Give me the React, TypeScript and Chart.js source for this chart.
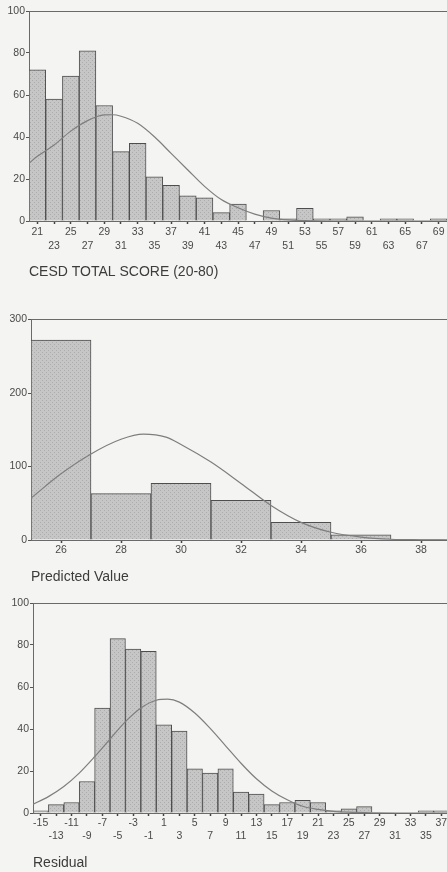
import React, { useEffect, useRef } from 'react';
import { Chart, registerables } from 'chart.js';

Chart.register(...registerables);

// ---------- Data ----------
// Chart 1: CESD TOTAL SCORE (20-80)
const cesdBins = [21, 23, 25, 27, 29, 31, 33, 35, 37, 39, 41, 43, 45, 47, 49, 51, 53, 55, 57, 59, 61, 63, 65, 67, 69];
const cesdTickLabels = ['21', '23', '25', '27', '29', '31', '33', '35', '37', '39', '41', '43', '45', '47', '49', '51', '53', '55', '57', '59', '61', '63', '65', '67', '69'];
const cesdCounts = [72, 58, 69, 81, 55, 33, 37, 21, 17, 12, 11, 4, 8, 0, 5, 1, 6, 1, 1, 2, 0, 1, 1, 0, 1];
const cesdCurveX = [20, 21, 23, 25, 27, 29, 30, 31, 33, 35, 37, 39, 41, 43, 45, 47, 49, 51, 53, 56, 70];
const cesdCurveY = [27.5, 30.8, 36.2, 42.8, 47.8, 50.5, 50.6, 49.9, 46.5, 40.1, 32.2, 24.3, 16.5, 10.2, 6.3, 3.3, 1.4, 0.5, 0.15, 0, 0];
const cesdYTicks = [0, 20, 40, 60, 80, 100];

// Chart 2: Predicted Value
const predBins = [26, 28, 30, 32, 34, 36, 38];
const predTickLabels = ['26', '28', '30', '32', '34', '36', '38'];
const predCounts = [272, 63, 77, 54, 24, 7, 1];
const predCurveX = [25, 26, 27, 28, 28.75, 29.5, 30, 31, 32, 33, 34, 35, 36, 37, 38, 39];
const predCurveY = [57, 90, 117, 137, 144, 140, 130, 106, 77, 47, 24, 10.5, 4, 1, 0.3, 0];
const predYTicks = [0, 100, 200, 300];

// Chart 3: Residual
const residBins = [-15, -13, -11, -9, -7, -5, -3, -1, 1, 3, 5, 7, 9, 11, 13, 15, 17, 19, 21, 23, 25, 27, 29, 31, 33, 35, 37];
const residTickLabels = ['-15', '-13', '-11', '-9', '-7', '-5', '-3', '-1', '1', '3', '5', '7', '9', '11', '13', '15', '17', '19', '21', '23', '25', '27', '29', '31', '33', '35', '37'];
const residCounts = [1, 4, 5, 15, 50, 83, 78, 77, 42, 39, 21, 19, 21, 10, 9, 4, 5, 6, 5, 1, 2, 3, 0, 0, 0, 1, 1];
const residCurveX = [-16.2, -14, -12, -10, -8, -6, -4, -2, 0, 1.5, 3, 5, 7, 9, 11, 13, 15, 17, 19, 21, 23, 25, 28, 31, 38];
const residCurveY = [3.8, 7.8, 12.6, 19, 26.8, 35.2, 43.5, 50, 53.7, 54.2, 52.8, 47.6, 40.3, 32, 23.7, 16.3, 10.5, 6.3, 3.2, 1.7, 0.8, 0.4, 0.1, 0, 0];
const residYTicks = [0, 20, 40, 60, 80, 100];

// ---------- Styling ----------
const BG = '#f4f4f2';
const FONT = "'Liberation Sans Narrow', 'Liberation Sans', Arial, sans-serif";
const TITLE_FONT = "'Liberation Sans', Arial, sans-serif";
const AXIS = '#6a6a6a';
const TEXT = '#4a4a4a';

function makePattern(): CanvasPattern | string {
  const c = document.createElement('canvas');
  c.width = 4;
  c.height = 4;
  const g = c.getContext('2d');
  if (!g) return '#c4c4c4';
  g.fillStyle = '#c6c6c6';
  g.fillRect(0, 0, 4, 4);
  g.fillStyle = '#acacac';
  g.fillRect(0, 0, 1, 1);
  g.fillRect(2, 2, 1, 1);
  const p = g.createPattern(c, 'repeat');
  return p || '#c4c4c4';
}

type Spec = {
  top: number;
  width: number;
  height: number;
  padTop: number;
  yWidth: number;
  xHeight: number;
  xMin: number;
  xMax: number;
  yMax: number;
  yStep: number;
  yTicks: number[];
  bins: number[];
  labels: string[];
  counts: number[];
  curveX: number[];
  curveY: number[];
  twoRows: boolean;
  lineHeight: number;
  tickPad: number;
  title: string;
};

const specs: Spec[] = [
  {
    top: 0, width: 447, height: 281, padTop: 11, yWidth: 29, xHeight: 60,
    xMin: 20, xMax: 70, yMax: 100, yStep: 20, yTicks: cesdYTicks,
    bins: cesdBins, labels: cesdTickLabels, counts: cesdCounts,
    curveX: cesdCurveX, curveY: cesdCurveY, twoRows: true, lineHeight: 14.3, tickPad: 0.5,
    title: 'CESD TOTAL SCORE (20-80)',
  },
  {
    top: 290, width: 451, height: 296, padTop: 29.5, yWidth: 31, xHeight: 46,
    xMin: 25, xMax: 39, yMax: 300, yStep: 100, yTicks: predYTicks,
    bins: predBins, labels: predTickLabels, counts: predCounts,
    curveX: predCurveX, curveY: predCurveY, twoRows: false, lineHeight: 12, tickPad: 1,
    title: 'Predicted Value',
  },
  {
    top: 590, width: 449, height: 282, padTop: 13, yWidth: 33, xHeight: 59,
    xMin: -16, xMax: 38, yMax: 100, yStep: 20, yTicks: residYTicks,
    bins: residBins, labels: residTickLabels, counts: residCounts,
    curveX: residCurveX, curveY: residCurveY, twoRows: true, lineHeight: 12.4, tickPad: 1.1,
    title: 'Residual',
  },
];

function Histogram({ spec }: { spec: Spec }) {
  const ref = useRef<HTMLCanvasElement | null>(null);

  useEffect(() => {
    if (!ref.current) return;
    const pattern = makePattern();
    const chart = new Chart(ref.current, {
      type: 'bar',
      data: {
        datasets: [
          {
            type: 'line',
            data: spec.curveX.map((x, i) => ({ x, y: spec.curveY[i] })),
            borderColor: '#7e7e7e',
            borderWidth: 1.2,
            pointRadius: 0,
            fill: false,
            cubicInterpolationMode: 'monotone',
            order: 0,
          } as any,
          {
            type: 'bar',
            data: spec.bins.map((x, i) => ({ x, y: spec.counts[i] })),
            backgroundColor: pattern as any,
            borderColor: '#4e4e4e',
            borderWidth: 1,
            barPercentage: 1,
            categoryPercentage: 1,
            order: 1,
          } as any,
        ],
      },
      options: {
        responsive: false,
        animation: false,
        events: [],
        layout: { padding: { top: spec.padTop, left: 0, right: 0, bottom: 0 } },
        plugins: { legend: { display: false }, tooltip: { enabled: false } },
        scales: {
          x: {
            type: 'linear',
            min: spec.xMin,
            max: spec.xMax,
            offset: false,
            afterBuildTicks: (axis: any) => {
              axis.ticks = spec.bins.map((v) => ({ value: v }));
            },
            afterFit: (axis: any) => {
              axis.height = spec.xHeight;
            },
            ticks: {
              autoSkip: false,
              maxRotation: 0,
              minRotation: 0,
              padding: spec.tickPad,
              color: TEXT,
              font: { family: FONT, size: 10.5, lineHeight: spec.lineHeight / 10.5 },
              callback: (_v: any, index: number) => {
                const lab = spec.labels[index] ?? '';
                if (!spec.twoRows) return lab;
                return index % 2 === 0 ? [lab, ''] : ['', lab];
              },
            },
            grid: {
              display: true,
              offset: false,
              drawOnChartArea: false,
              drawTicks: true,
              tickLength: 3,
              tickColor: '#444',
              tickWidth: 1.5,
            },
            border: { display: true, color: AXIS, width: 1 },
            title: {
              display: true,
              text: spec.title,
              align: 'start',
              color: '#3c3c3c',
              font: { family: TITLE_FONT, size: 14, lineHeight: 1.2 },
              padding: 0,
            },
          } as any,
          y: {
            type: 'linear',
            min: 0,
            max: spec.yMax,
            afterBuildTicks: (axis: any) => {
              axis.ticks = spec.yTicks.map((v) => ({ value: v }));
            },
            afterFit: (axis: any) => {
              axis.width = spec.yWidth;
            },
            ticks: {
              padding: 1,
              color: TEXT,
              font: { family: FONT, size: 10.5 },
            },
            grid: {
              display: true,
              drawOnChartArea: true,
              drawTicks: true,
              tickLength: 3,
              tickColor: '#555',
              color: (ctx: any) => (ctx.tick && ctx.tick.value === spec.yMax ? AXIS : 'rgba(0,0,0,0)'),
            },
            border: { display: true, color: AXIS, width: 1 },
          } as any,
        },
      },
    });
    return () => chart.destroy();
  }, [spec]);

  return (
    <canvas
      ref={ref}
      width={spec.width}
      height={spec.height}
      style={{ position: 'absolute', left: 0, top: spec.top, width: spec.width, height: spec.height }}
    />
  );
}

export default function App() {
  return (
    <div
      style={{
        position: 'absolute',
        left: 0,
        top: 0,
        width: 447,
        height: 872,
        overflow: 'hidden',
        background: BG,
      }}
    >
      {specs.map((s, i) => (
        <Histogram key={i} spec={s} />
      ))}
    </div>
  );
}
